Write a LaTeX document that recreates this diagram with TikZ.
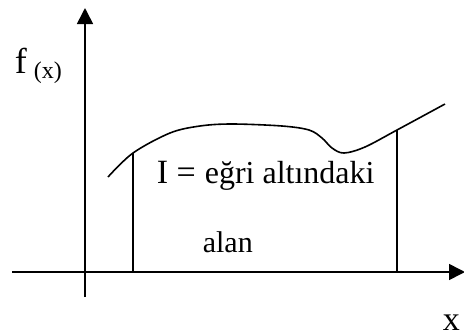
\documentclass[tikz,border=0pt]{standalone}
\usepackage{fontspec}
\setmainfont{Liberation Serif}
\usetikzlibrary{arrows.meta}
\begin{document}
\begin{tikzpicture}[x=1pt,y=-1pt, line width=1.6pt,
  lbl/.style={inner sep=0pt, anchor=base west},
  axisarrow/.style={-{Triangle[length=16pt,width=16pt]}},
  curveline/.style={line width=1.6pt}]
\useasboundingbox (0,0) rectangle (464,333);
% axes
\coordinate (xs) at (12,272);
\coordinate (xe) at (465,272);
\coordinate (ys) at (85,297);
\coordinate (ye) at (85,8);
\draw[axisarrow] (xs) -- (xe);
\draw[axisarrow] (ys) -- (ye);
% bounds
\coordinate (a0) at (133,272);
\coordinate (a1) at (133,153);
\coordinate (b0) at (397,272);
\coordinate (b1) at (397,130);
\draw (a0) -- (a1);
\draw (b0) -- (b1);
% curve
\draw[curveline] plot[smooth, tension=0.55] coordinates {(108,177) (133,153) (170,133) (200,126) (232,124) (282,126) (309,130) (322,138) (332,148) (344,153) (365,147) (397,130) (445,104)};
% labels
\node[lbl, font=\fontsize{36}{40}\selectfont] (f) at (14,73) {f};
\node[lbl, font=\fontsize{24}{28}\selectfont] (fx) at (33,78) {(x)};
\node[lbl, font=\fontsize{34}{40}\selectfont] (I) at (156,183) {I =};
\node[lbl, font=\fontsize{32}{38}\selectfont] (eg) at (204,183) {eğri altındaki};
\node[lbl, font=\fontsize{30}{36}\selectfont] (alan) at (202,252) {alan};
\node[lbl, font=\fontsize{34}{40}\selectfont] (x) at (442,330) {x};
\end{tikzpicture}
\end{document}
